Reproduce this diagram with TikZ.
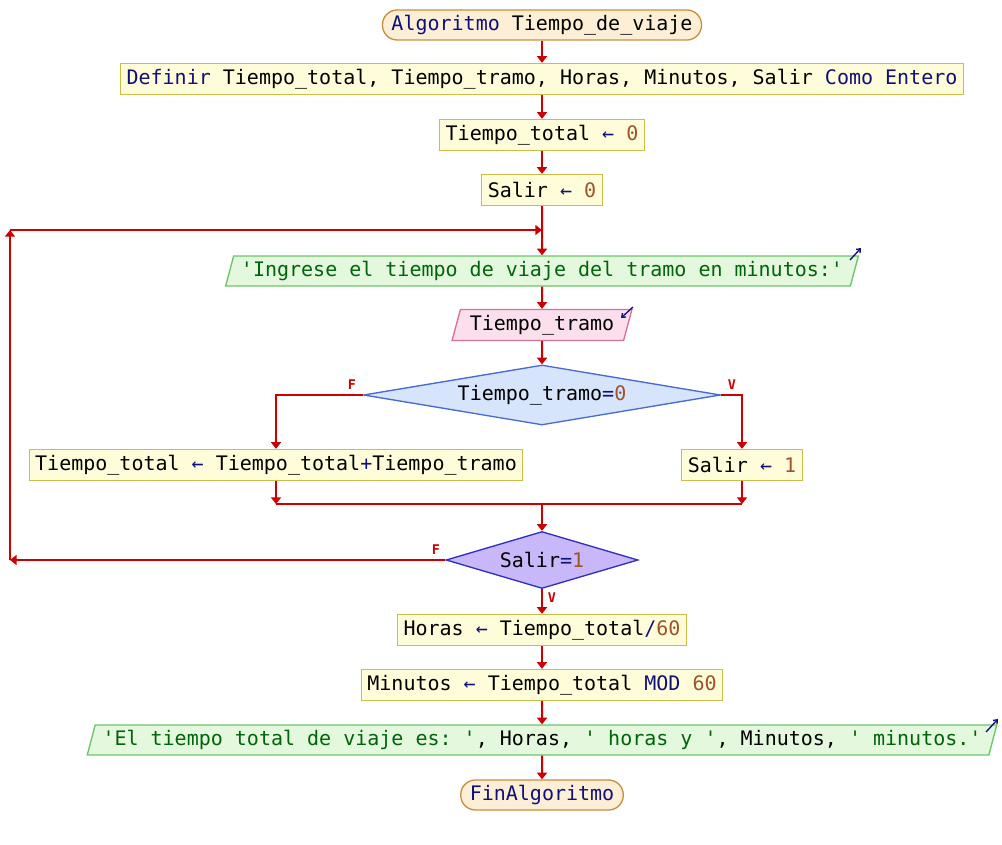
\documentclass[tikz,border=0pt]{standalone}
\usepackage{fontspec}
\setmonofont{DejaVu Sans Mono}
\usetikzlibrary{shapes.geometric,arrows.meta}
\definecolor{kwcol}{HTML}{10107A}
\definecolor{nmcol}{HTML}{A0522D}
\definecolor{stcol}{HTML}{00640A}
\definecolor{rojo}{HTML}{CC0000}
\definecolor{asigfill}{HTML}{FFFDD9}
\definecolor{asigline}{HTML}{C8BE48}
\definecolor{inifill}{HTML}{FDEFD6}
\definecolor{iniline}{HTML}{C8903C}
\definecolor{escfill}{HTML}{E3F8DC}
\definecolor{escline}{HTML}{6CC46C}
\definecolor{leefill}{HTML}{FCDFEC}
\definecolor{leeline}{HTML}{D8709A}
\definecolor{si1fill}{HTML}{D6E4FC}
\definecolor{si1line}{HTML}{4A6AD0}
\definecolor{si2fill}{HTML}{C8B8FA}
\definecolor{si2line}{HTML}{3030C0}
\newcommand{\kw}[1]{\textcolor{kwcol}{#1}}
\newcommand{\nm}[1]{\textcolor{nmcol}{#1}}
\newcommand{\cad}[1]{\textcolor{stcol}{#1}}
\tikzset{
  base/.style={font=\ttfamily\fontsize{15}{18}\selectfont, line width=1pt, inner xsep=4.5pt, inner ysep=0pt, minimum height=23.25pt},
  asig/.style={base, draw=asigline, fill=asigfill},
  inicio/.style={base, draw=iniline, fill=inifill, rounded corners=11pt, inner xsep=6.75pt, minimum height=22.5pt},
  paralelo/.style={base, trapezium, trapezium left angle=68, trapezium right angle=112, trapezium stretches=true},
  escribir/.style={paralelo, draw=escline, fill=escfill, minimum height=22.5pt},
  leer/.style={paralelo, draw=leeline, fill=leefill},
  decision/.style={base, diamond, inner sep=0pt},
  flecha/.style={rojo, line width=1.5pt, -{Triangle[length=5pt,width=7.5pt]}},
  linea/.style={rojo, line width=1.5pt},
  etiq/.style={rojo, font=\ttfamily\bfseries\fontsize{10}{11}\selectfont, inner sep=0pt},
  icono/.style={kwcol, line width=1pt, -{Straight Barb[length=2.5pt,width=4pt]}}
}
\begin{document}
\begin{tikzpicture}[x=0.75pt,y=-0.75pt]
\useasboundingbox (0,0) rectangle (1002,845);
\node[inicio] (ini) at (542,25) {\kw{Algoritmo} Tiempo\_de\_viaje};
\node[asig] (def) at (542,79) {\kw{Definir} Tiempo\_total, Tiempo\_tramo, Horas, Minutos, Salir \kw{Como Entero}};
\node[asig] (a1) at (542,135) {Tiempo\_total \kw{←} \nm{0}};
\node[asig] (a2) at (542,190) {Salir \kw{←} \nm{0}};
\node[escribir, minimum width=477pt] (out1) at (542,271) {\cad{'Ingrese el tiempo de viaje del tramo en minutos:'}};
\node[leer, minimum width=135pt] (in1) at (542,325) {Tiempo\_tramo};
\node[decision, draw=si1line, fill=si1fill, shape aspect=6, minimum width=267.75pt, minimum height=45pt] (d1) at (542,395) {Tiempo\_tramo\kw{=}\nm{0}};
\node[asig] (b1) at (276,465) {Tiempo\_total \kw{←} Tiempo\_total\kw{+}Tiempo\_tramo};
\node[asig] (b2) at (742,465) {Salir \kw{←} \nm{1}};
\node[decision, draw=si2line, fill=si2fill, shape aspect=3.4, minimum width=144pt, minimum height=42.75pt] (d2) at (542,560) {Salir\kw{=}\nm{1}};
\node[asig] (h1) at (542,630) {Horas \kw{←} Tiempo\_total\kw{/}\nm{60}};
\node[asig] (h2) at (542,685) {Minutos \kw{←} Tiempo\_total \kw{MOD} \nm{60}};
\node[escribir, minimum width=684.75pt] (out2) at (542,740) {\cad{'El tiempo total de viaje es: '}, Horas, \cad{' horas y '}, Minutos, \cad{' minutos.'}};
\node[inicio] (fin) at (542,795) {\kw{FinAlgoritmo}};

\node[etiq] (f1) at (352,385) {F};
\node[etiq] (v1) at (732,385) {V};
\node[etiq] (f2) at (436,550) {F};
\node[etiq] (v2) at (552,598) {V};

\coordinate (m1) at (276,504);
\coordinate (m2) at (742,504);
\coordinate (m) at (542,504);
\coordinate (c1) at (10,560);
\coordinate (c2) at (10,230);
\coordinate (j) at (542,230);

\draw[flecha] (ini) -- (def);
\draw[flecha] (def) -- (a1);
\draw[flecha] (a1) -- (a2);
\draw[flecha] (a2) -- (out1);
\draw[flecha] (out1) -- (in1);
\draw[flecha] (in1) -- (d1);
\draw[flecha] (d1.west) -| (b1.north);
\draw[flecha] (d1.east) -| (b2.north);
\draw[flecha] (b1) -- (m1);
\draw[flecha] (b2) -- (m2);
\draw[linea] (m1) -- (m2);
\draw[flecha] (m) -- (d2);
\draw[flecha] (d2.west) -- (c1);
\draw[flecha] (c1) -- (c2);
\draw[flecha] (c2) -- (j);
\draw[flecha] (d2) -- (h1);
\draw[flecha] (h1) -- (h2);
\draw[flecha] (h2) -- (out2);
\draw[flecha] (out2) -- (fin);

\draw[icono] (850,260) -- (861,248);
\draw[icono] (633,307) -- (621,318);
\draw[icono] (986,732) -- (998,719);
\end{tikzpicture}
\end{document}
